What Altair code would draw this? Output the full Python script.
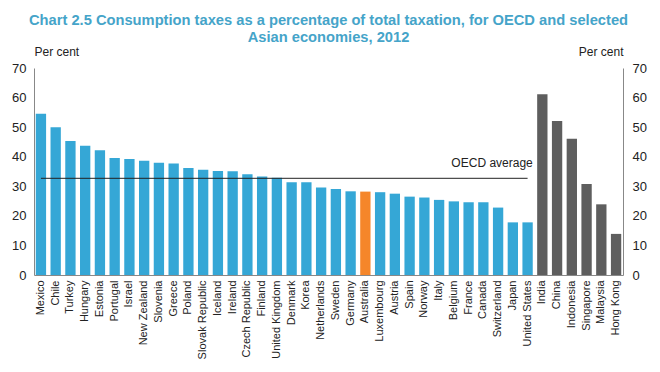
import altair as alt
import pandas as pd

countries = ["Mexico", "Chile", "Turkey", "Hungary", "Estonia", "Portugal", "Israel",
             "New Zealand", "Slovenia", "Greece", "Poland", "Slovak Republic", "Iceland",
             "Ireland", "Czech Republic", "Finland", "United Kingdom", "Denmark", "Korea",
             "Netherlands", "Sweden", "Germany", "Australia", "Luxembourg", "Austria",
             "Spain", "Norway", "Italy", "Belgium", "France", "Canada", "Switzerland",
             "Japan", "United States", "India", "China", "Indonesia", "Singapore",
             "Malaysia", "Hong Kong"]
values = [54.5, 50.0, 45.3, 43.7, 42.2, 39.6, 39.2, 38.6, 38.0, 37.7, 36.2, 35.6, 35.2,
          35.1, 34.1, 33.3, 32.9, 31.4, 31.4, 29.6, 29.1, 28.3, 28.2, 28.0, 27.5, 26.5,
          26.2, 25.4, 24.9, 24.6, 24.6, 22.8, 17.8, 17.8, 61.1, 52.1, 46.1, 30.8, 23.9, 13.9]
groups = ["OECD"] * 22 + ["Australia"] + ["OECD"] * 11 + ["Asia"] * 6
oecd_average = 32.7
y_ticks = [0, 10, 20, 30, 40, 50, 60, 70]

df = pd.DataFrame({"country": countries, "value": values, "group": groups})
avg_df = pd.DataFrame({"start": ["Mexico"], "end": ["United States"],
                       "avg": [oecd_average], "label": ["OECD average"]})

FONT = "Liberation Sans"

xscale = alt.Scale(domain=countries, paddingInner=0.3, paddingOuter=0.12)
xaxis = alt.Axis(labelAngle=-90, labelFontSize=11, labelColor="#222",
                 labelFont=FONT, ticks=False, domainColor="#888",
                 labelPadding=5, labelOverlap=False, title=None)
yscale = alt.Scale(domain=[0, 70])


def yaxis(orient, align, pad):
    return alt.Axis(values=y_ticks, title="Per cent", titleAngle=0, titleAlign=align,
                    titleX=0, titleY=-10, titleFontWeight="normal", titleFontSize=12,
                    titleFont=FONT, titleColor="#222", labelFontSize=13, labelFont=FONT,
                    labelColor="#222", grid=False, domainColor="#888", ticks=False,
                    labelPadding=pad, orient=orient, labelOverlap=False,
                    labelFlush=False)


left_axis = yaxis("left", "left", 8)
right_ax = yaxis("right", "right", 9)

bars = alt.Chart(df).mark_bar().encode(
    x=alt.X("country:N", scale=xscale, axis=xaxis),
    y=alt.Y("value:Q", scale=yscale, axis=left_axis),
    color=alt.Color("group:N",
                    scale=alt.Scale(domain=["OECD", "Australia", "Asia"],
                                    range=["#35A7D6", "#F5862A", "#5E5E5E"]),
                    legend=None),
)

rule = alt.Chart(avg_df).mark_rule(color="#222", strokeWidth=1).encode(
    x=alt.X("start:N", scale=xscale, axis=xaxis, bandPosition=0.5),
    x2=alt.X2("end", bandPosition=0.5),
    y=alt.Y("avg:Q", scale=yscale, axis=left_axis),
)

label = alt.Chart(avg_df).mark_text(align="right", baseline="bottom", font=FONT,
                                    fontSize=12, color="#222", dy=-8, dx=0).encode(
    x=alt.X("end:N", scale=xscale, axis=xaxis, bandPosition=1),
    y=alt.Y("avg:Q", scale=yscale, axis=left_axis),
    text="label:N",
)

right_layer = alt.Chart(df).mark_bar(opacity=0).encode(
    x=alt.X("country:N", scale=xscale, axis=xaxis),
    y=alt.Y("value:Q", scale=yscale, axis=right_ax),
)

left = alt.layer(bars, rule, label)
chart = alt.layer(left, right_layer).resolve_scale(y="independent").properties(
    width=589, height=207,
    autosize=alt.AutoSizeParams(type="none"),
    padding={"left": 26, "top": 60, "right": 29, "bottom": 90},
    title=alt.TitleParams(
        text=["Chart 2.5 Consumption taxes as a percentage of total taxation, for OECD and selected",
              "Asian economies, 2012"],
        font=FONT, fontSize=14.7, fontWeight="bold", color="#45A4C9", anchor="middle",
        offset=0, lineHeight=17),
).configure_view(stroke=None)

chart.save("out.html", embed_options={"renderer": "svg", "actions": False})
